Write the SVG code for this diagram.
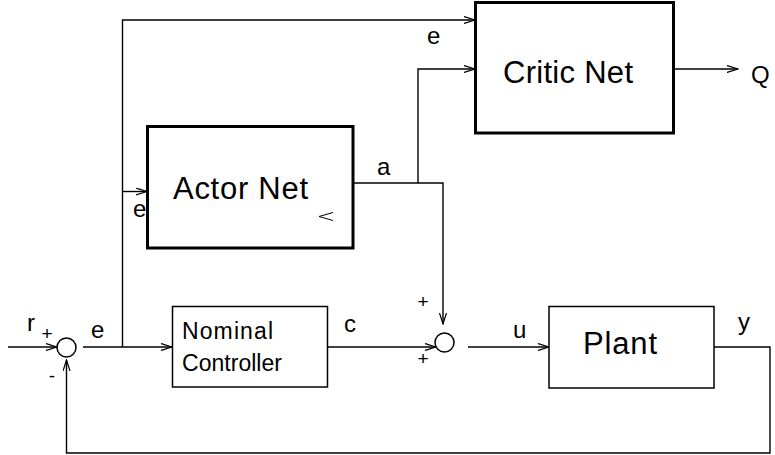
<svg xmlns="http://www.w3.org/2000/svg" width="775" height="455" viewBox="0 0 775 455">
<style>
.thick{fill:#fff;stroke:#000;stroke-width:3}
.thin{fill:#fff;stroke:#000;stroke-width:1.5}
.w{fill:none;stroke:#000;stroke-width:1.4}
.big{font-family:"Liberation Sans",Arial,sans-serif;font-size:31px;fill:#000}
.mid{font-family:"Liberation Sans",Arial,sans-serif;font-size:23px;fill:#000}
.lab{font-family:"Liberation Sans",Arial,sans-serif;font-size:24px;fill:#000}
.sgn{font-family:"Liberation Sans",Arial,sans-serif;font-size:19px;fill:#000}
</style>
<defs>
<marker id="ah" markerWidth="12" markerHeight="8" refX="11" refY="4" orient="auto" markerUnits="userSpaceOnUse">
<polyline points="0,0.5 11,4 0,7.5" fill="none" stroke="#000" stroke-width="1.2"/>
</marker>
</defs>
<rect width="775" height="455" fill="#fff"/>
<g id="connectors">
<polyline class="w" points="8,347 57,347" marker-end="url(#ah)"/>
<polyline class="w" points="83,347 172,347" marker-end="url(#ah)"/>
<polyline class="w" points="122.5,347 122.5,20 475,20" marker-end="url(#ah)"/>
<polyline class="w" points="122.5,191.5 147,191.5" marker-end="url(#ah)"/>
<polyline class="w" points="353,183 443,183 443,324" marker-end="url(#ah)"/>
<polyline class="w" points="418,183 418,69 475,69" marker-end="url(#ah)"/>
<polyline class="w" points="674,69 738,69" marker-end="url(#ah)"/>
<polyline class="w" points="328,347 436,347" marker-end="url(#ah)"/>
<polyline class="w" points="468,347 549,347" marker-end="url(#ah)"/>
<polyline class="w" points="714,347 770,347 770,453 66.5,453 66.5,360" marker-end="url(#ah)"/>
</g>
<g id="sum1">
<circle class="thin" cx="66.5" cy="347.5" r="9.5"/>
<text class="sgn" x="47" y="340" text-anchor="middle">+</text>
<text class="sgn" x="52" y="382" text-anchor="middle">-</text>
</g>
<g id="sum2">
<circle class="thin" cx="444.5" cy="342.5" r="9.5"/>
<text class="sgn" x="423" y="308" text-anchor="middle">+</text>
<text class="sgn" x="423" y="365" text-anchor="middle">+</text>
</g>
<g id="critic">
<rect class="thick" x="475.5" y="2.5" width="198" height="130.5"/>
<text class="big" x="503" y="83" textLength="130">Critic Net</text>
</g>
<g id="actor">
<rect class="thick" x="147.5" y="126.5" width="205.5" height="121.5"/>
<text class="big" x="173" y="199" textLength="135">Actor Net</text>
<polyline points="333,212.5 319,216.5 333,220.5" fill="none" stroke="#000" stroke-width="1"/>
</g>
<g id="controller">
<rect class="thin" x="172.5" y="306.5" width="155" height="80.5"/>
<text class="mid" x="182" y="339" textLength="91">Nominal</text>
<text class="mid" x="182" y="371" textLength="100">Controller</text>
</g>
<g id="plant">
<rect class="thin" x="549" y="306.5" width="165" height="81.5"/>
<text class="big" x="583" y="354" textLength="74">Plant</text>
</g>
<g id="labels">
<text class="lab" x="27" y="331">r</text>
<text class="lab" x="91" y="338">e</text>
<text class="lab" x="427" y="44">e</text>
<text class="lab" x="133" y="217">e</text>
<text class="lab" x="377" y="175">a</text>
<text class="lab" x="344" y="332">c</text>
<text class="lab" x="513" y="338">u</text>
<text class="lab" x="738" y="330">y</text>
<text class="lab" x="751" y="83">Q</text>
</g>
</svg>
